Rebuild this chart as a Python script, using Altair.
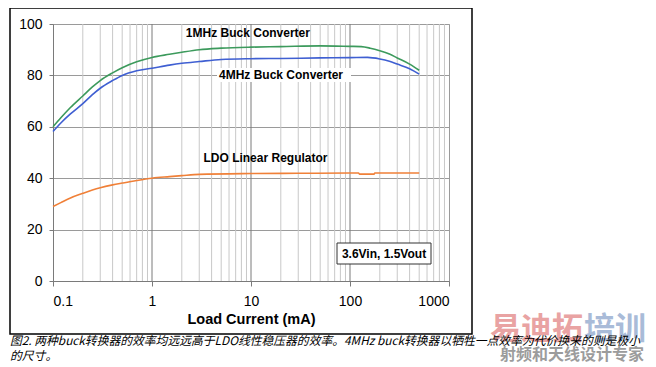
import altair as alt
import pandas as pd

# ---- data ----
x_1mhz = [0.1, 0.12, 0.15, 0.2, 0.25, 0.3, 0.4, 0.5, 0.7, 1, 1.5, 2, 3, 5, 10, 20, 50, 100, 130, 160, 200, 250, 300, 400, 500]
y_1mhz = [60, 63.5, 67.5, 72, 75.5, 78, 81, 83, 85.3, 87, 88.2, 89, 90, 90.6, 91, 91.2, 91.5, 91.3, 91.2, 90.6, 89.6, 88.3, 86.8, 84.4, 82]

x_4mhz = [0.1, 0.12, 0.15, 0.2, 0.25, 0.3, 0.4, 0.5, 0.7, 1, 1.5, 2, 3, 5, 10, 20, 50, 100, 150, 200, 250, 300, 400, 500]
y_4mhz = [58.2, 61.5, 65, 69, 72.5, 75, 78, 80, 81.8, 82.8, 84, 84.7, 85.4, 86.2, 86.5, 86.6, 86.8, 86.9, 87, 86.4, 85.5, 84.4, 82.6, 80.5]

x_ldo = [0.1, 0.12, 0.15, 0.2, 0.25, 0.3, 0.4, 0.5, 0.7, 1, 1.5, 2, 3, 10, 30, 100, 122, 125, 175, 178, 300, 500]
y_ldo = [29, 30.5, 32.3, 34.1, 35.4, 36.3, 37.4, 38.1, 39.1, 40, 40.6, 41, 41.5, 41.8, 41.9, 42, 42, 41.6, 41.6, 42, 42, 42]

series_names = ["1MHz Buck Converter", "4MHz Buck Converter", "LDO Linear Regulator"]
series_colors = ["#3c9a5c", "#3f5fd2", "#f08038"]

x_ticks = [0.1, 1, 10, 100, 1000]
y_ticks = [0, 20, 40, 60, 80, 100]
major_grid = [1, 10, 100]
minor_grid = [m * d for d in [0.1, 1, 10, 100] for m in range(2, 10)]

caption_1 = "图2. 两种buck转换器的效率均远远高于LDO线性稳压器的效率。4MHz buck转换器以牺牲一点效率为代价换来的则是极小"
caption_2 = "的尺寸。"

rows = []
for name, xs_, ys_ in zip(series_names, [x_1mhz, x_4mhz, x_ldo], [y_1mhz, y_4mhz, y_ldo]):
    for xv, yv in zip(xs_, ys_):
        rows.append({"series": name, "current": xv, "eff": yv})
df = pd.DataFrame(rows)

W, H = 396, 257
xs = alt.Scale(type="log", domain=[0.1, 1000], nice=False)
ys = alt.Scale(domain=[0, 100], nice=False)
FONT = "Liberation Sans"

minor = alt.Chart(pd.DataFrame({"g": minor_grid})).mark_rule(color="#c8c8c8", strokeWidth=1).encode(
    x=alt.X("g:Q", scale=xs))
major = alt.Chart(pd.DataFrame({"g": major_grid})).mark_rule(color="#7a7a7a", strokeWidth=1).encode(
    x=alt.X("g:Q", scale=xs))

lines = alt.Chart(df).mark_line(strokeWidth=1.6, interpolate="monotone").encode(
    x=alt.X("current:Q", scale=xs,
            axis=alt.Axis(values=x_ticks, title="Load Current (mA)", grid=False, tickSize=5,
                          labelExpr="datum.value >= 1 ? format(datum.value, 'd') : '0.1'",
                          labelPadding=8, titlePadding=4, titleFontSize=14.5, titleFontWeight="bold",
                          titleFont=FONT, titleColor="black")),
    y=alt.Y("eff:Q", scale=ys,
            axis=alt.Axis(values=y_ticks, title=None, grid=True, gridColor="#9a9a9a", tickSize=4,
                          labelPadding=7)),
    color=alt.Color("series:N", scale=alt.Scale(domain=series_names, range=series_colors), legend=None),
)

lbl_style = dict(font=FONT, fontWeight="bold", fontSize=12, color="black")
lbl1 = alt.Chart().mark_text(**lbl_style).encode(x=alt.datum(9.3, scale=xs), y=alt.datum(96.5, scale=ys),
                                                  text=alt.value(series_names[0]))
lbl2_bg = alt.Chart().mark_rect(color="white").encode(
    x=alt.value(164), x2=alt.value(298), y=alt.value(44), y2=alt.value(58))
lbl2 = alt.Chart().mark_text(**lbl_style).encode(x=alt.datum(20.1, scale=xs), y=alt.datum(80.2, scale=ys),
                                                  text=alt.value(series_names[1]))
lbl3 = alt.Chart().mark_text(**lbl_style).encode(x=alt.datum(14, scale=xs), y=alt.datum(47.9, scale=ys),
                                                  text=alt.value(series_names[2]))

box = alt.Chart().mark_rect(fill="white", stroke="#333", strokeWidth=1).encode(
    x=alt.value(284), x2=alt.value(378), y=alt.value(219), y2=alt.value(240))
box_txt = alt.Chart().mark_text(**lbl_style).encode(x=alt.value(331), y=alt.value(229.5),
                                                     text=alt.value("3.6Vin, 1.5Vout"))

frame = alt.Chart().mark_rect(fill=None, stroke="black", strokeWidth=1.5).encode(
    x=alt.value(-43), x2=alt.value(419), y=alt.value(-16), y2=alt.value(310))

wm_style = dict(font="Noto Sans CJK SC", fontWeight="bold", align="left", baseline="middle")
wm1 = alt.Chart().mark_text(color="#e9a3a3", fontSize=31, **wm_style).encode(
    x=alt.value(437), y=alt.value(306), text=alt.value("易迪拓"))
wm2 = alt.Chart().mark_text(color="#a9bbd8", fontSize=31, **wm_style).encode(
    x=alt.value(531), y=alt.value(306), text=alt.value("培训"))
wm3 = alt.Chart().mark_text(color="#9c9c9c", fontSize=16, **wm_style).encode(
    x=alt.value(447), y=alt.value(331), text=alt.value("射频和天线设计专家"))

cap_style = dict(font="Noto Sans CJK SC", fontSize=11.8, fontStyle="italic", align="left",
                 baseline="middle", color="black")
cap1 = alt.Chart().mark_text(**cap_style).encode(x=alt.value(-43), y=alt.value(317), text=alt.value(caption_1))
cap2 = alt.Chart().mark_text(**cap_style).encode(x=alt.value(-43), y=alt.value(332), text=alt.value(caption_2))

chart = alt.layer(
    minor, major, lines, lbl1, lbl2_bg, lbl2, lbl3, box, box_txt, frame, wm1, wm2, wm3, cap1, cap2
).properties(
    width=W, height=H, background="white",
    autosize=alt.AutoSizeParams(type="none"),
    padding={"left": 45, "top": 16, "right": 199, "bottom": 84},
).configure_axis(
    labelFont=FONT, labelFontSize=14, labelColor="black", tickColor="#7a7a7a", domainColor="#7a7a7a",
).configure_view(stroke="#9a9a9a")

chart.save("out.html", embed_options={"renderer": "svg", "actions": False})
